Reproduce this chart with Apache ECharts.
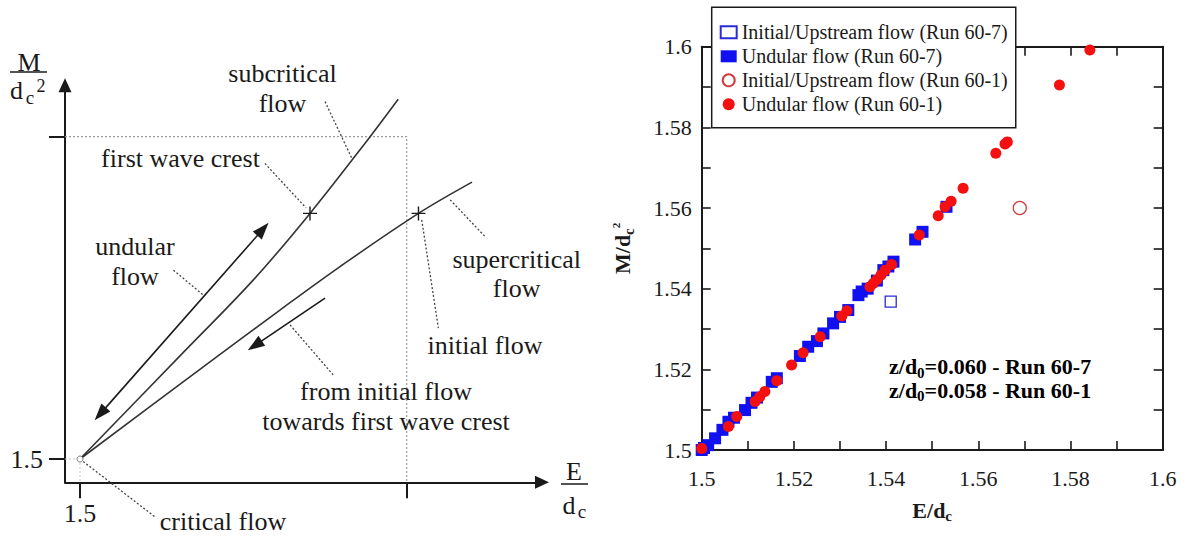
<!DOCTYPE html>
<html><head><meta charset="utf-8">
<script src="https://cdn.jsdelivr.net/npm/echarts@6/dist/echarts.min.js"></script>
<style>html,body{margin:0;padding:0;background:#fff}#c{width:1186px;height:537px}</style>
</head><body><div id="c"></div>
<script>
// ================= RIGHT PANEL DATA  [E/dc, M/dc^2] =================
const xTickValues = [1.5, 1.52, 1.54, 1.56, 1.58, 1.6];
const yTickValues = [1.5, 1.52, 1.54, 1.56, 1.58, 1.6];
const initialRun607 = [[1.541, 1.5368]];
const undularRun607 = [
  [1.5, 1.5], [1.5005, 1.5005], [1.5014, 1.5012], [1.5029, 1.5029], [1.5045, 1.505],
  [1.5058, 1.507], [1.507, 1.508], [1.5094, 1.5099], [1.5108, 1.5117], [1.512, 1.513],
  [1.5152, 1.5169], [1.5163, 1.5178], [1.5213, 1.5233], [1.5231, 1.5256], [1.525, 1.527],
  [1.5264, 1.5289], [1.5285, 1.5314], [1.53, 1.533], [1.5318, 1.5347], [1.534, 1.5384],
  [1.5347, 1.5393], [1.536, 1.54], [1.538, 1.542], [1.5394, 1.5446], [1.5405, 1.5455],
  [1.5416, 1.5467], [1.5463, 1.5522], [1.5479, 1.5541], [1.5531, 1.5603]
];
const initialRun601 = [[1.569, 1.56]];
const undularRun601 = [
  [1.5, 1.5004], [1.5058, 1.5058], [1.5076, 1.5083], [1.5116, 1.512], [1.5126, 1.5132],
  [1.5137, 1.5145], [1.5163, 1.5172], [1.5195, 1.5211], [1.522, 1.5241], [1.5257, 1.5281],
  [1.5304, 1.5332], [1.5315, 1.5345], [1.5365, 1.5405], [1.5372, 1.5413], [1.538, 1.5422],
  [1.5389, 1.5434], [1.5398, 1.5446], [1.5412, 1.546], [1.5472, 1.5533], [1.5513, 1.5581],
  [1.5528, 1.5603], [1.5541, 1.5617], [1.5567, 1.5649], [1.5638, 1.5736], [1.5658, 1.5759],
  [1.5663, 1.5764], [1.5776, 1.5905], [1.5842, 1.5992]
];
const seriesNames = ['Initial/Upstream flow (Run 60-7)', 'Undular flow (Run 60-7)',
  'Initial/Upstream flow (Run 60-1)', 'Undular flow (Run 60-1)'];
const noteLines = [['0', '=0.060 - Run 60-7'], ['0', '=0.058 - Run 60-1']];

// ================= LEFT PANEL (schematic, nominal E/dc, M/dc^2 units) =================
const schemTicks = [1.5, 1.6];
const schemLabels = [1.5];
const subcriticalCurve = [[1.5, 1.5], [1.5306, 1.532], [1.553, 1.5555],
  [1.5704, 1.5762], [1.5888, 1.6], [1.5974, 1.6116]];
const supercriticalCurve = [[1.5, 1.5], [1.5367, 1.5278], [1.5612, 1.5462], [1.5796, 1.5597],
  [1.6036, 1.5762], [1.62, 1.5859]];
const crossPoints = [[1.5704, 1.5762], [1.6036, 1.5762]];
const criticalPoint = [[1.5, 1.5]];
const undularArrow = [[1.5062, 1.514], [1.556, 1.5713]];
const towardsArrow = [[1.575, 1.5499], [1.5535, 1.5352]];
const leaderLines = [
  [[1.575, 1.6109], [1.5832, 1.5933]],
  [[1.5566, 1.5917], [1.5692, 1.5779]],
  [[1.5286, 1.5586], [1.5377, 1.5509]],
  [[1.6133, 1.5804], [1.624, 1.569]],
  [[1.6046, 1.5742], [1.6097, 1.5406]],
  [[1.5643, 1.5416], [1.5775, 1.5261]],
  [[1.5, 1.5], [1.523, 1.482]]
];
const SX = [1.495409, 1.641414];   // schematic axis ranges
const SY = [1.492771, 1.615948];
const boxLine = [[SX[0], 1.6], [1.6, 1.6], [1.6, SY[0]]];
const criticalGuides = [[[1.5, 1.5], [1.5, SY[0]]], [[SX[0], 1.5], [1.5, 1.5]]];

const SERIF = "'Liberation Serif', 'Times New Roman', serif";
const INK = '#1a1a1a';

const chart = echarts.init(document.getElementById('c'), null, {renderer: 'svg'});

function fmt2(v) {
  const k = Math.round(v * 100);
  return k % 2 === 0 ? String(+(k / 100).toFixed(2)) : '';
}
const richName = {
  t: {fontFamily: SERIF, fontSize: 22, fontWeight: 'bold', color: INK, lineHeight: 26},
  s: {fontFamily: SERIF, fontSize: 15, fontWeight: 'bold', color: INK, lineHeight: 16, padding: [12, 0, 0, 0]},
  p: {fontFamily: SERIF, fontSize: 11, fontWeight: 'bold', color: INK, lineHeight: 12, padding: [0, 0, 14, 0]}
};

const plainLine = (data, style, smooth) => ({
  type: 'line', xAxisIndex: 0, yAxisIndex: 0, data, symbol: 'none', silent: true, clip: false,
  smooth: smooth || false, lineStyle: style, z: 3
});

const series = [
  // right panel
  {name: seriesNames[0], type: 'scatter', xAxisIndex: 1, yAxisIndex: 1, data: initialRun607,
   symbol: 'rect', symbolSize: 11, itemStyle: {color: '#fff', borderColor: '#2a2ad8', borderWidth: 1.3, opacity: 1}, z: 5},
  {name: seriesNames[1], type: 'scatter', xAxisIndex: 1, yAxisIndex: 1, data: undularRun607,
   symbol: 'rect', symbolSize: 12, itemStyle: {color: '#1010f0', opacity: 1}, z: 5},
  {name: seriesNames[2], type: 'scatter', xAxisIndex: 1, yAxisIndex: 1, data: initialRun601,
   symbol: 'circle', symbolSize: 13, itemStyle: {color: '#fff', borderColor: '#d03a3a', borderWidth: 1.3, opacity: 1}, z: 6},
  {name: seriesNames[3], type: 'scatter', xAxisIndex: 1, yAxisIndex: 1, data: undularRun601,
   symbol: 'circle', symbolSize: 11, itemStyle: {color: '#f41010', opacity: 1}, z: 6},
  // left schematic
  plainLine(boxLine, {color: '#9a9a9a', width: 1.2, type: [2, 2]}),
  ...criticalGuides.map(d => plainLine(d, {color: '#c8c8c8', width: 1, type: [2, 2]})),
  Object.assign(plainLine(subcriticalCurve, {color: '#333', width: 1.6}, 0.35), {
    markLine: {
      silent: true, animation: false, symbol: ['none', 'triangle'], symbolSize: [12, 17],
      label: {show: false}, lineStyle: {color: INK, width: 1.6, type: 'solid'},
      emphasis: {disabled: true},
      data: [
        [{coord: towardsArrow[0]}, {coord: towardsArrow[1]}],
        [{coord: undularArrow[0], symbol: 'triangle', symbolSize: [12, 17]}, {coord: undularArrow[1]}]
      ]
    }
  }),
  plainLine(supercriticalCurve, {color: '#333', width: 1.6}, 0.35),
  ...leaderLines.map(d => plainLine(d, {color: '#444', width: 1.3, type: [2, 2]})),
  {type: 'scatter', xAxisIndex: 0, yAxisIndex: 0, data: crossPoints, silent: true, z: 6,
   symbol: 'path://M9,0 H11 V9 H20 V11 H11 V20 H9 V11 H0 V9 H9 Z', symbolSize: 14, itemStyle: {color: INK, opacity: 1}},
  {type: 'scatter', xAxisIndex: 0, yAxisIndex: 0, data: criticalPoint, silent: true, z: 6,
   symbol: 'circle', symbolSize: 6, itemStyle: {color: '#fff', borderColor: '#777', borderWidth: 1, opacity: 1}}
];

const tickLab = {fontFamily: SERIF, fontSize: 22, color: INK};
const frameLine = {show: true, lineStyle: {color: INK, width: 2}};
const inTick = {show: true, inside: true, length: 9, lineStyle: {color: INK, width: 1.6}};

const leftTexts = [
  ['subcritical\nflow', 282.5, 88.3, 30],
  ['first wave crest', 180.5, 158.3, 30],
  ['undular\nflow', 135, 261.7, 30],
  ['supercritical\nflow', 516.7, 274, 28.5],
  ['initial flow', 485, 345, 30],
  ['from initial flow\ntowards first wave crest', 386, 406.7, 30],
  ['critical flow', 223, 521, 30]
];
const txt = (text, x, y, size, extra) => ({type: 'text', x, y, silent: true, z: 10,
  style: Object.assign({text, fontFamily: SERIF, fontSize: size, fill: INK, align: 'center', verticalAlign: 'middle'}, extra || {})});

const graphics = [
  ...leftTexts.map(t => txt(t[0], t[1], t[2], 26, {lineHeight: t[3]})),
  // M / dc^2
  txt('M', 29, 62, 26),
  {type: 'line', silent: true, shape: {x1: 10, y1: 72, x2: 47, y2: 72}, style: {stroke: INK, lineWidth: 1.5}},
  txt('d', 16.5, 90, 26),
  txt('c', 30, 97, 19),
  txt('2', 41, 86, 18),
  // E / dc
  txt('E', 574, 471, 26),
  {type: 'line', silent: true, shape: {x1: 561, y1: 484, x2: 588, y2: 484}, style: {stroke: INK, lineWidth: 1.5}},
  txt('d', 569, 505, 26),
  txt('c', 582, 511, 19),
  // right-panel note
  ...noteLines.map((ln, i) => ({type: 'text', x: 889, y: 366.7 + i * 23.5, silent: true, z: 10,
    style: {text: '{t|z/d}{s|' + ln[0] + '}{t|' + ln[1] + '}', rich: richName, align: 'left', verticalAlign: 'middle'}}))
];

chart.setOption({
  animation: false,
  backgroundColor: '#fff',
  grid: [
    {left: 65, top: 85.3, width: 477, height: 397},
    {left: 701.7, top: 46.7, width: 461, height: 403.3}
  ],
  legend: {
    data: seriesNames, orient: 'vertical', left: 711.7, top: 7.3,
    padding: [15, 8, 13.5, 8], itemGap: 4, itemWidth: 16, itemHeight: 12,
    borderColor: INK, borderWidth: 1.5, backgroundColor: '#fff', borderRadius: 0,
    textStyle: {fontFamily: SERIF, fontSize: 20, color: INK, lineHeight: 20},
    selectedMode: false, z: 20
  },
  xAxis: [
    {gridIndex: 0, type: 'value', min: SX[0], max: SX[1], splitLine: {show: false},
     axisLine: {show: true, onZero: false, symbol: ['none', 'triangle'], symbolSize: [13, 14], lineStyle: {color: INK, width: 2}},
     axisTick: {show: true, customValues: schemTicks, length: 16, lineStyle: {color: INK, width: 2}},
     axisLabel: {show: true, customValues: schemLabels, margin: 18, fontFamily: SERIF, fontSize: 26, color: INK,
       formatter: v => String(+v.toFixed(2))}},
    {gridIndex: 1, type: 'value', min: 1.5, max: 1.6, interval: 0.01, splitLine: {show: false},
     axisLine: frameLine, axisTick: inTick,
     axisLabel: Object.assign({margin: 17, formatter: fmt2, showMinLabel: true, showMaxLabel: true}, tickLab),
     name: '{t|E/d}{s|c}', nameLocation: 'middle', nameGap: 47, nameTextStyle: {rich: richName}},
    {gridIndex: 1, type: 'value', position: 'top', min: 1.5, max: 1.6, interval: 0.01, splitLine: {show: false},
     axisLine: frameLine, axisTick: inTick, axisLabel: {show: false}}
  ],
  yAxis: [
    {gridIndex: 0, type: 'value', min: SY[0], max: SY[1], splitLine: {show: false},
     axisLine: {show: true, onZero: false, symbol: ['none', 'triangle'], symbolSize: [13, 14], lineStyle: {color: INK, width: 2}},
     axisTick: {show: true, customValues: schemTicks, length: 16, lineStyle: {color: INK, width: 2}},
     axisLabel: {show: true, customValues: schemLabels, margin: 22, fontFamily: SERIF, fontSize: 26, color: INK,
       formatter: v => String(+v.toFixed(2))}},
    {gridIndex: 1, type: 'value', min: 1.5, max: 1.6, interval: 0.01, splitLine: {show: false},
     axisLine: frameLine, axisTick: inTick,
     axisLabel: Object.assign({margin: 10, formatter: fmt2, showMinLabel: true, showMaxLabel: true}, tickLab),
     name: '{t|M/d}{s|c}{p|2}', nameLocation: 'middle', nameGap: 66, nameTextStyle: {rich: richName}},
    {gridIndex: 1, type: 'value', position: 'right', min: 1.5, max: 1.6, interval: 0.01, splitLine: {show: false},
     axisLine: frameLine, axisTick: inTick, axisLabel: {show: false}}
  ],
  series,
  graphic: graphics
});
</script></body></html>
